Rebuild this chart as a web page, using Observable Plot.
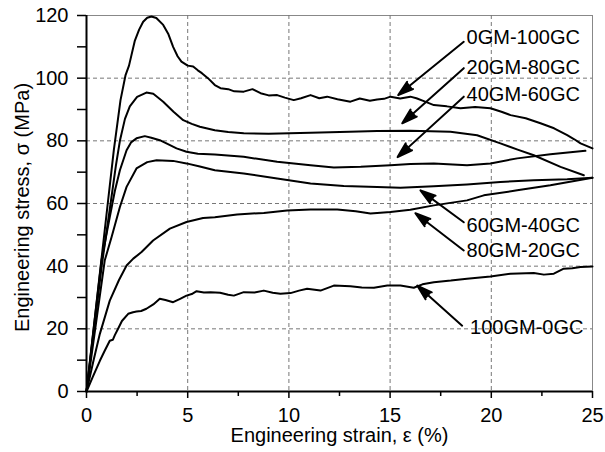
<!DOCTYPE html>
<html>
<head>
<meta charset="utf-8">
<script src="https://cdn.jsdelivr.net/npm/d3@7"></script>
<script src="https://cdn.jsdelivr.net/npm/@observablehq/plot@0.6"></script>
<style>
  html, body { margin: 0; padding: 0; background: white; }
</style>
</head>
<body>
<div id="chart"></div>
<script>
// ---- Data ----
const seriesNames = ["0GM-100GC", "20GM-80GC", "40GM-60GC", "60GM-40GC", "80GM-20GC", "100GM-0GC"];

const x0 = [0, 0.7, 1.05, 1.35, 1.68, 1.93, 2.1, 2.39, 2.6, 2.8, 3.0, 3.21, 3.45, 3.79, 4.05, 4.28, 4.5, 4.69, 5.0, 5.27, 5.5, 5.7, 6.0, 6.34, 6.62, 7.0, 7.3, 7.77, 8.2, 8.6, 9.0, 9.42, 9.8, 10.24, 10.6, 11.07, 11.5, 11.89, 12.4, 13.04, 13.5, 14.0, 14.36, 14.7, 15.02, 15.5, 16.0, 16.3, 16.7, 17.16, 17.8, 18.48, 19.2, 19.96, 20.5, 20.95, 21.7, 22.43, 23.1, 23.75, 24.1, 24.41, 25];
const y0 = [0, 40, 60, 77, 93, 101, 104, 112, 115.5, 118, 119.3, 119.7, 119.2, 117, 114, 110, 107, 105.3, 104, 103.7, 102.5, 101.6, 100, 97.8, 96.8, 96.5, 95.8, 95.7, 96.5, 95.2, 94.5, 94.6, 93.8, 93, 93.6, 94.6, 93.6, 94.1, 93.3, 92.5, 93.5, 92.8, 93.2, 93.4, 94.1, 93.5, 94.1, 93.6, 92.6, 91.4, 91, 90.4, 90.8, 90.4, 89.3, 88.2, 87.2, 85.6, 84, 81.8, 80.5, 79.2, 77.6];

const x20 = [0, 0.75, 1.19, 1.45, 1.65, 1.9, 2.14, 2.5, 2.96, 3.3, 3.79, 4.3, 4.78, 5.2, 5.6, 6.34, 7.0, 7.77, 9.0, 11.07, 13.0, 14.36, 16.0, 17.98, 19.3, 20.45, 21.3, 22.1, 23.42, 24.57];
const y20 = [0, 40, 60, 72, 80, 87, 91, 94, 95.4, 95, 92.5, 89.3, 86.6, 85.4, 84.5, 83.4, 82.8, 82.4, 82.3, 82.6, 82.9, 83.1, 83.2, 82.9, 81.8, 79.2, 77.2, 75.4, 71.7, 69];

const x40 = [0, 0.74, 1.15, 1.4, 1.65, 1.98, 2.2, 2.47, 2.88, 3.2, 3.62, 4.0, 4.45, 4.94, 5.5, 6.34, 7.77, 9.42, 11.07, 12.22, 13.55, 15.02, 16.0, 17.16, 18.8, 19.96, 21.28, 22.92, 24.65];
const y40 = [0, 41.8, 55.7, 64, 70.6, 77, 79.5, 80.8, 81.5, 81, 80.2, 79, 77.6, 76.5, 75.9, 75.6, 74.9, 73.3, 72.2, 71.5, 71.7, 72.2, 72.6, 72.8, 72.2, 72.8, 74.4, 75.7, 76.8];

const x60 = [0, 0.9, 1.24, 1.65, 1.98, 2.47, 3.0, 3.46, 4.28, 4.94, 5.6, 6.34, 7.77, 9.42, 11.07, 12.71, 14.36, 15.51, 17.16, 18.8, 20.45, 22.1, 23.75, 25];
const y60 = [0, 41.8, 49.3, 58.9, 65.3, 71.2, 73.2, 73.8, 73.6, 72.8, 71.8, 70.6, 69.6, 68, 66.4, 65.6, 65.3, 65, 65.5, 66.1, 66.9, 67.4, 67.7, 68.2];

const x80 = [0, 0.35, 0.66, 1.15, 1.6, 1.98, 2.31, 2.72, 3.29, 4.12, 4.94, 5.76, 6.34, 7.44, 8.76, 9.91, 11.07, 12.39, 13.3, 14.03, 15.02, 16.0, 17.16, 18.8, 19.63, 21.28, 22.92, 25];
const y80 = [0, 10, 18.4, 29, 35.5, 40.2, 42.4, 44.5, 48.2, 52, 54.1, 55.4, 55.6, 56.5, 57, 57.8, 58.1, 58.1, 57.5, 56.8, 57.3, 58, 59.4, 61, 62.6, 64.2, 65.8, 68.2];

const x100 = [0, 0.3, 0.66, 0.9, 1.15, 1.3, 1.4, 1.56, 1.75, 2.06, 2.3, 2.47, 2.7, 2.96, 3.3, 3.62, 3.9, 4.28, 4.6, 4.94, 5.2, 5.44, 5.8, 6.13, 6.6, 7.0, 7.28, 7.77, 8.3, 8.76, 9.2, 9.58, 10.08, 10.5, 10.9, 11.56, 12.22, 13.04, 13.6, 14.2, 14.86, 15.51, 16.17, 16.6, 17.16, 18.0, 18.8, 19.96, 20.95, 22.1, 22.6, 23.09, 23.58, 24.0, 24.41, 25];
const y100 = [0, 4.5, 9.8, 13, 16.2, 16.5, 18, 20, 22.5, 24.8, 25.3, 25.5, 25.7, 26.4, 27.8, 29.6, 29.2, 28.5, 29.5, 30.6, 31.1, 32, 31.6, 31.7, 31.5, 30.9, 30.6, 31.7, 31.6, 32.2, 31.5, 31.2, 31.4, 32.2, 32.8, 32.2, 33.8, 33.6, 33.2, 33.1, 33.8, 33.8, 33.1, 34.2, 34.9, 35.4, 36, 36.7, 37.6, 37.8, 37.3, 37.6, 39.2, 39.3, 39.7, 39.9];

// Annotations (data units)
const annoLabels = ["0GM-100GC", "20GM-80GC", "40GM-60GC", "60GM-40GC", "80GM-20GC", "100GM-0GC"];
const annoTextX = [18.78, 18.78, 18.78, 18.78, 18.78, 18.95];
const annoTextY = [112.9, 103.4, 94.6, 53.0, 45.0, 20.5];
const arrowFromX = [18.64, 18.64, 18.64, 18.64, 18.64, 18.56];
const arrowFromY = [111.6, 103.2, 94.1, 54.0, 45.0, 21.0];
const arrowTipX = [15.4, 15.6, 15.37, 16.5, 16.25, 16.34];
const arrowTipY = [94.6, 85.6, 74.8, 64.2, 56.9, 33.8];

// Axis ticks
const xTicks = [0, 5, 10, 15, 20, 25];
const xMinorTicks = [2.5, 7.5, 12.5, 17.5, 22.5];
const yTicks = [0, 20, 40, 60, 80, 100, 120];
const yMinorTicks = [10, 30, 50, 70, 90, 110];
const xGrid = [5, 10, 15, 20];
const yGrid = [20, 40, 60, 80, 100];

const xTitle = "Engineering strain, \u03b5 (%)";
const yTitle = "Engineering stress, \u03c3 (MPa)";

// ---- Build table ----
const allX = [x0, x20, x40, x60, x80, x100];
const allY = [y0, y20, y40, y60, y80, y100];
const rows = [];
seriesNames.forEach((name, k) => {
  allX[k].forEach((xv, i) => rows.push({series: name, x: xv, y: allY[k][i]}));
});

const chart = Plot.plot({
  width: 605,
  height: 452,
  marginLeft: 86,
  marginRight: 13,
  marginTop: 15,
  marginBottom: 61,
  x: {domain: [0, 25]},
  y: {domain: [0, 120]},
  style: {fontFamily: "'Liberation Sans', Arial, sans-serif", fontSize: "20px", background: "white", color: "black"},
  marks: [
    Plot.frame({stroke: "#888", strokeWidth: 1}),
    Plot.gridY(yGrid, {stroke: "#777", strokeOpacity: 1, strokeDasharray: "4,3", strokeWidth: 1}),
    Plot.gridX(xGrid, {stroke: "#777", strokeOpacity: 1, strokeDasharray: "4,3", strokeWidth: 1}),
    Plot.line(rows, {x: "x", y: "y", z: "series", stroke: "black", strokeWidth: 2, strokeLinejoin: "round"}),
    Plot.ruleX([0], {stroke: "black", strokeWidth: 2}),
    Plot.ruleY([0], {stroke: "black", strokeWidth: 2}),
    Plot.axisY(yTicks, {tickSize: 9, tickPadding: 9, label: null, fontSize: 20, strokeWidth: 1.5}),
    Plot.axisY(yMinorTicks, {tickSize: 9, tickFormat: () => "", label: null, strokeWidth: 1.5}),
    Plot.axisX(xTicks, {tickSize: 7, tickPadding: 9, label: null, fontSize: 20, strokeWidth: 1.5}),
    Plot.axisX(xMinorTicks, {tickSize: 5, tickFormat: () => "", label: null, strokeWidth: 1.5}),
    Plot.text([yTitle], {text: d => d, frameAnchor: "left", dx: -64, dy: 4, rotate: -90, textAnchor: "middle", fontSize: 20}),
    Plot.text([xTitle], {text: d => d, frameAnchor: "bottom", dy: 50, textAnchor: "middle", fontSize: 20}),
    Plot.arrow(annoLabels, {
      x1: (d, i) => arrowFromX[i], y1: (d, i) => arrowFromY[i],
      x2: (d, i) => arrowTipX[i], y2: (d, i) => arrowTipY[i],
      stroke: "black", fill: "black", strokeWidth: 2, headLength: 12, headAngle: 34
    }),
    Plot.text(annoLabels, {x: (d, i) => annoTextX[i], y: (d, i) => annoTextY[i], text: d => d, textAnchor: "start", fontSize: 20})
  ]
});
document.getElementById("chart").appendChild(chart);
</script>
</body>
</html>
